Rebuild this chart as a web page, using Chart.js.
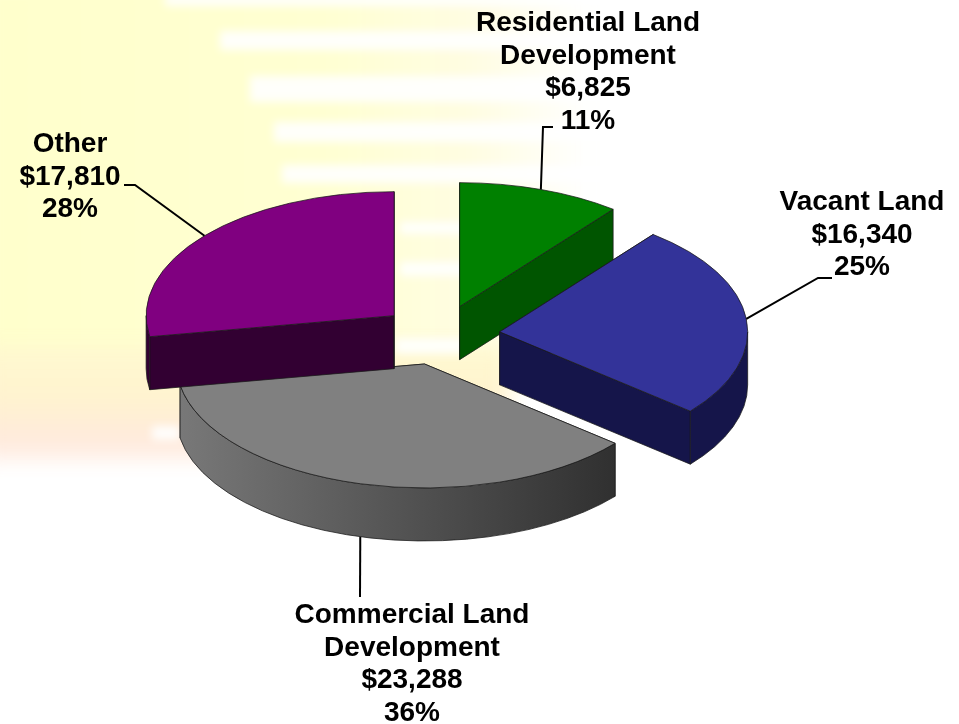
<!DOCTYPE html>
<html>
<head>
<meta charset="utf-8">
<title>Land portfolio</title>
<script src="https://cdn.jsdelivr.net/npm/chart.js@4"></script>
<style>
  html, body { margin: 0; padding: 0; background: #fff; }
  canvas { display: block; }
</style>
</head>
<body>
<canvas id="myChart" width="959" height="724"></canvas>
<script>
// === DATA ===
const categories = ["Residential Land Development", "Vacant Land", "Commercial Land Development", "Other"];
const amounts = [6825, 16340, 23288, 17810];
const amountLabels = ["$6,825", "$16,340", "$23,288", "$17,810"];
const percentLabels = ["11%", "25%", "36%", "28%"];

// === STYLE ===
const topColors = ["#008000", "#333399", "#808080", "#800080"];
const sideColors = ["#005500", "#15154a", "#3c3c3c", "#320032"];
const wallLeft = ["#005500", "#15154a", "#787878", "#320032"];
const wallRight = ["#005500", "#15154a", "#303030", "#320032"];
const TILT = 0.5;      // vertical squash of the pie
const DEPTH = 53;      // thickness in screen px
const EXPLODE = 60;    // how far each slice is pulled out
const EDGE = "#1a1a1a";

// label layout: split category lines, text centre, first line y, elbow of the leader
const labelLines = [
  ["Residential Land", "Development"],
  ["Vacant Land"],
  ["Commercial Land", "Development"],
  ["Other"],
];
const labelX = [588, 862, 412, 70];
const labelY = [23, 202, 615, 144];
const LINE_H = 32.8;
const leaderElbow = [[[553, 127], [543, 127]], [[832, 278], [818, 278]], [[360, 597]], [[124, 185], [135, 185]]];

function sliceOrigin(arc) {
  const mid = (arc.startAngle + arc.endAngle) / 2;
  return { x: arc.x + Math.cos(mid) * EXPLODE, y: arc.y + Math.sin(mid) * EXPLODE };
}

// Fungsi untuk gambar sisi 3D, dipanggil dalam ruang yang sudah di-scale
function drawSides(ctx, arc, i) {
  const o = sliceOrigin(arc);
  const r = arc.outerRadius;
  const d = DEPTH / TILT;
  ctx.lineWidth = 1;
  ctx.strokeStyle = EDGE;

  // potongan lurus (dua sisi)
  [arc.startAngle, arc.endAngle].forEach(a => {
    const ex = o.x + Math.cos(a) * r;
    const ey = o.y + Math.sin(a) * r;
    ctx.beginPath();
    ctx.moveTo(o.x, o.y);
    ctx.lineTo(ex, ey);
    ctx.lineTo(ex, ey + d);
    ctx.lineTo(o.x, o.y + d);
    ctx.closePath();
    ctx.fillStyle = sideColors[i];
    ctx.fill();
    ctx.stroke();
  });

  // dinding luar, hanya bagian yang menghadap depan
  const from = Math.max(arc.startAngle, 0);
  const to = Math.min(arc.endAngle, Math.PI);
  if (to > from) {
    const grad = ctx.createLinearGradient(o.x + Math.cos(to) * r, 0, o.x + Math.cos(from) * r, 0);
    grad.addColorStop(0, wallLeft[i]);
    grad.addColorStop(1, wallRight[i]);
    ctx.beginPath();
    ctx.arc(o.x, o.y, r, from, to);
    ctx.arc(o.x, o.y + d, r, to, from, true);
    ctx.closePath();
    ctx.fillStyle = grad;
    ctx.fill();
    ctx.stroke();
  }
}

const backgroundPlugin = {
  id: "wash",
  beforeDraw(chart) {
    const ctx = chart.ctx;
    ctx.save();
    ctx.fillStyle = "#fff";
    ctx.fillRect(0, 0, chart.width, chart.height);

    // cahaya kuning di kiri, pudar ke kanan
    ctx.filter = "blur(10px)";
    const yellow = ctx.createLinearGradient(0, 0, 590, 0);
    yellow.addColorStop(0, "#ffffcc");
    yellow.addColorStop(0.55, "#ffffd2");
    yellow.addColorStop(0.8, "#fffde2");
    yellow.addColorStop(1, "#ffffff");
    ctx.fillStyle = yellow;
    ctx.fillRect(-20, -20, 620, 400);

    const lower = ctx.createLinearGradient(0, 340, 0, 465);
    lower.addColorStop(0, "#fffad0");
    lower.addColorStop(0.45, "#fff3cf");
    lower.addColorStop(0.8, "#ffeadc");
    lower.addColorStop(1, "#fff0ea");
    ctx.fillStyle = lower;
    ctx.fillRect(-20, 345, 530, 115);

    // garis-garis putih
    ctx.filter = "blur(4px)";
    ctx.fillStyle = "rgba(255,255,255,0.9)";
    [[165, -6, 450, 12], [220, 31, 420, 19], [250, 76, 400, 26], [274, 122, 400, 20], [282, 165, 400, 18], [400, 222, 70, 12], [400, 262, 70, 14], [395, 338, 70, 16]].forEach(s => {
      ctx.fillRect(s[0], s[1], s[2], s[3]);
    });
    ctx.fillRect(152, 426, 28, 14);
    ctx.restore();
  },
};

const pie3dPlugin = {
  id: "pie3d",
  beforeDatasetDraw(chart) {
    const ctx = chart.ctx;
    const arcs = chart.getDatasetMeta(0).data;
    arcs.forEach((arc, i) => {
      const mid = (arc.startAngle + arc.endAngle) / 2;
      ctx.save();
      ctx.translate(0, arc.y * (1 - TILT));
      ctx.scale(1, TILT);
      drawSides(ctx, arc, i);
      ctx.translate(Math.cos(mid) * EXPLODE, Math.sin(mid) * EXPLODE);
      arc.draw(ctx);
      ctx.restore();
    });
    return false;
  },
  afterDraw(chart) {
    const ctx = chart.ctx;
    const arcs = chart.getDatasetMeta(0).data;
    ctx.save();
    ctx.fillStyle = "#000";
    ctx.strokeStyle = "#000";
    ctx.lineWidth = 2;
    ctx.font = "bold 28px 'Liberation Sans', Arial, sans-serif";
    ctx.textAlign = "center";
    ctx.textBaseline = "middle";

    arcs.forEach((arc, i) => {
      // titik awal garis dihitung dari posisi slice
      const mid = (arc.startAngle + arc.endAngle) / 2;
      const o = sliceOrigin(arc);
      const ax = o.x + Math.cos(mid) * arc.outerRadius;
      let ay = arc.y + (o.y + Math.sin(mid) * arc.outerRadius - arc.y) * TILT;
      if (Math.abs(Math.cos(mid)) < 0.5 && Math.sin(mid) > 0) ay += DEPTH;

      ctx.beginPath();
      ctx.moveTo(ax, ay);
      leaderElbow[i].slice().reverse().forEach(p => ctx.lineTo(p[0], p[1]));
      ctx.stroke();

      const lines = labelLines[i].concat([amountLabels[i], percentLabels[i]]);
      lines.forEach((t, n) => ctx.fillText(t, labelX[i], labelY[i] + n * LINE_H));
    });
    ctx.restore();
  },
};

new Chart(document.getElementById("myChart"), {
  type: "pie",
  data: {
    labels: categories,
    datasets: [{
      data: amounts,
      backgroundColor: topColors,
      borderColor: EDGE,
      borderWidth: 1,
    }],
  },
  options: {
    responsive: false,
    animation: false,
    radius: 248,
    layout: { padding: { right: 79, bottom: 54 } },
    plugins: { legend: { display: false }, tooltip: { enabled: false } },
  },
  plugins: [backgroundPlugin, pie3dPlugin],
});
</script>
</body>
</html>
